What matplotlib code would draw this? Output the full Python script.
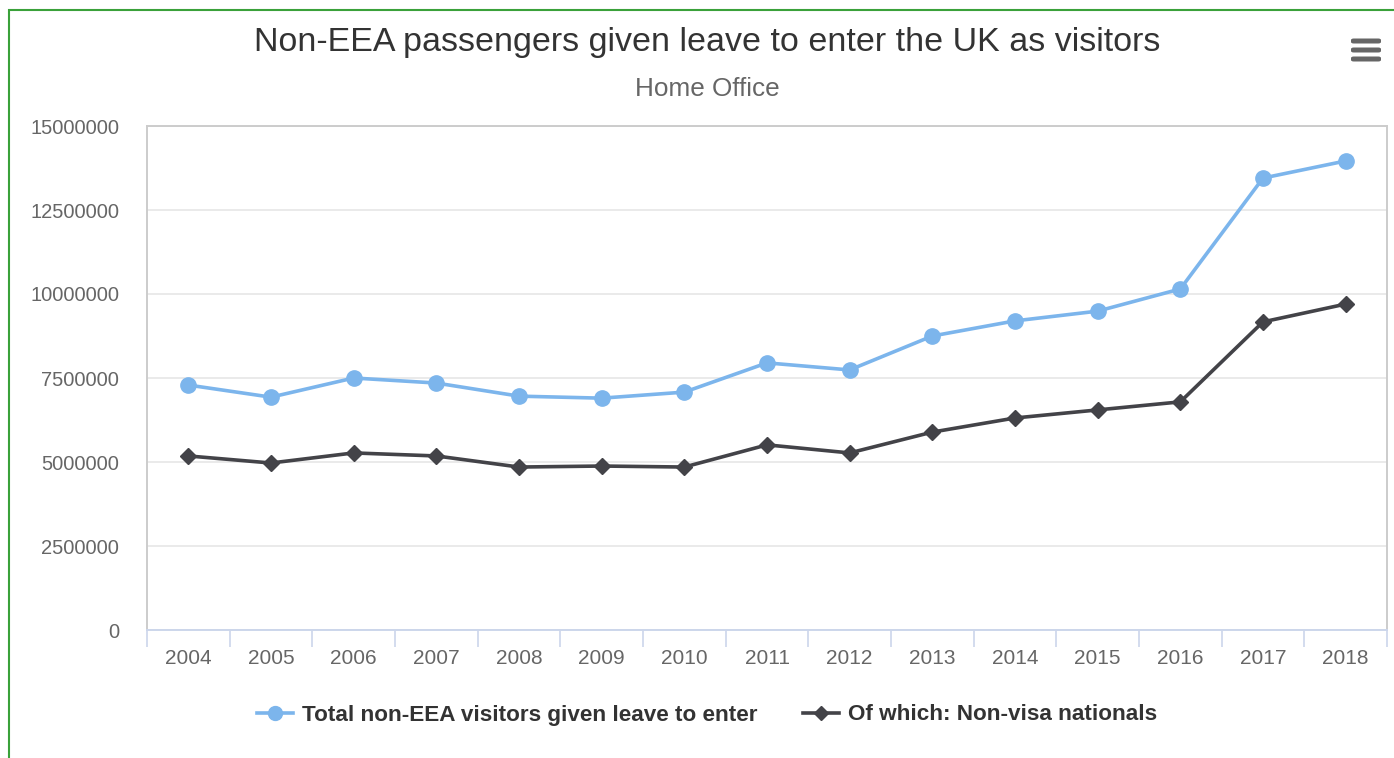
import matplotlib.pyplot as plt
from matplotlib.lines import Line2D
from matplotlib.patches import Rectangle, FancyBboxPatch

plt.rcParams['font.family'] = ['Liberation Sans', 'DejaVu Sans']

# Data
years = ['2004', '2005', '2006', '2007', '2008', '2009', '2010', '2011',
         '2012', '2013', '2014', '2015', '2016', '2017', '2018']
total_visitors = [7290000, 6930000, 7500000, 7350000, 6960000, 6900000, 7080000,
                  7950000, 7740000, 8750000, 9200000, 9490000, 10150000,
                  13450000, 13960000]
non_visa = [5180000, 4970000, 5270000, 5180000, 4850000, 4880000, 4850000,
            5510000, 5270000, 5890000, 6310000, 6550000, 6790000,
            9170000, 9700000]
y_ticks = [0, 2500000, 5000000, 7500000, 10000000, 12500000, 15000000]

blue = '#7cb5ec'
dark = '#434348'

fig = plt.figure(figsize=(13.94, 7.58), dpi=100)
W, H = 1394, 758

# plot area in pixels: x 147..1387, y 126..630
ax = fig.add_axes([147 / W, (H - 630) / H, (1387 - 147) / W, (630 - 126) / H])

x = list(range(len(years)))
ax.plot(x, total_visitors, color=blue, lw=2.6, marker='o', ms=11,
        zorder=3, clip_on=False)
ax.plot(x, non_visa, color=dark, lw=2.6, marker='D', ms=8,
        zorder=3, clip_on=False)

ax.set_xlim(-0.5, len(years) - 0.5)
ax.set_ylim(0, 15000000)
ax.set_yticks(y_ticks)
ax.set_yticklabels([str(v) for v in y_ticks])
ax.tick_params(axis='y', length=0, pad=20, labelcolor='#666666', labelsize=14.5)
ax.grid(axis='y', color='#e6e6e6', lw=1.2)
ax.set_axisbelow(True)

ax.set_xticks(x)
ax.set_xticklabels(years)
ax.set_xticks([i + 0.5 for i in range(-1, len(years))], minor=True)
ax.tick_params(axis='x', which='major', length=0, pad=14,
               labelcolor='#666666', labelsize=15)
ax.tick_params(axis='x', which='minor', length=12, color='#ccd6eb', width=1.2)

for side in ['top', 'left', 'right']:
    ax.spines[side].set_color('#cccccc')
    ax.spines[side].set_linewidth(1.4)
ax.spines['bottom'].set_color('#ccd6eb')
ax.spines['bottom'].set_linewidth(1.4)

# titles
fig.text(707 / W, 1 - 43 / H, 'Non-EEA passengers given leave to enter the UK as visitors',
         ha='center', va='center', fontsize=24.5, color='#333333')
fig.text(707 / W, 1 - 89 / H, 'Home Office', ha='center', va='center',
         fontsize=18.8, color='#666666')

# legend
handles = [Line2D([], [], color=blue, lw=2.6, marker='o', ms=10),
           Line2D([], [], color=dark, lw=2.6, marker='D', ms=7)]
labels = ['Total non-EEA visitors given leave to enter', 'Of which: Non-visa nationals']
fig.legend(handles, labels, loc='center', bbox_to_anchor=(707 / W, 1 - 715 / H),
           ncol=2, frameon=False, handlelength=1.6, handletextpad=0.4,
           columnspacing=2.0, prop={'weight': 'bold', 'size': 16.2},
           labelcolor='#333333')

# menu icon
for yy in [41, 50, 59]:
    fig.patches.append(FancyBboxPatch((1351 / W, 1 - (yy + 2.5) / H), 30 / W, 5 / H,
                                      boxstyle='round,pad=0,rounding_size=0.002',
                                      transform=fig.transFigure, color='#666666',
                                      lw=0))

# green frame
fig.patches.append(Rectangle((9 / W, -0.05), 1.2, 1 - 10 / H + 0.05,
                             transform=fig.transFigure, fill=False,
                             edgecolor='#3aa13a', lw=1.5))

fig.savefig('out.png', dpi=100)
